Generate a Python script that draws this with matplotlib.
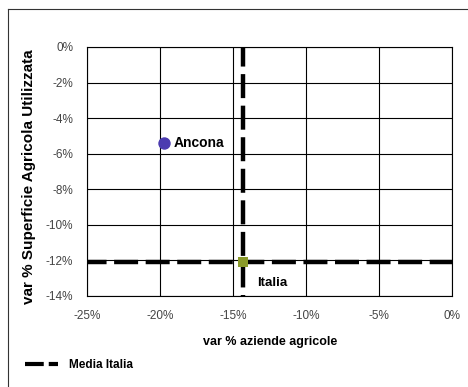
import matplotlib
matplotlib.use("Agg")
import matplotlib.pyplot as plt
from matplotlib.lines import Line2D
from matplotlib.ticker import FuncFormatter

plt.rcParams['font.family'] = ['Liberation Sans', 'DejaVu Sans']

# Data
points = ["Ancona", "Italia"]
x_vals = [-19.7, -14.3]   # var % aziende agricole
y_vals = [-5.4, -12.1]    # var % Superficie Agricola Utilizzata
point_colors = ["#4b3bb0", "#8a9a2a"]
media_x = -14.3
media_y = -12.1
x_ticks = [-25, -20, -15, -10, -5, 0]
y_ticks = [0, -2, -4, -6, -8, -10, -12, -14]

W, H = 468, 387
fig = plt.figure(figsize=(W/100, H/100), dpi=100)
ax = fig.add_axes([87/W, 1-296/H, (452-87)/W, (296-47)/H])

ax.set_xlim(-25, 0)
ax.set_ylim(-14, 0)
ax.set_xticks(x_ticks)
ax.set_yticks(y_ticks)
ax.xaxis.set_major_formatter(FuncFormatter(lambda v, p: f"{int(round(v))}%"))
ax.yaxis.set_major_formatter(FuncFormatter(lambda v, p: f"{int(round(v))}%"))
ax.grid(True, color="black", linewidth=0.8)
ax.set_axisbelow(True)
ax.tick_params(length=0, labelsize=8.5, colors="#444444")
ax.tick_params(axis="y", pad=10)
ax.tick_params(axis="x", pad=10)
for s in ax.spines.values():
    s.set_color("black")
    s.set_linewidth(0.8)

dash = (1, (5.4, 1.7))
ax.plot([media_x, media_x], [0, -14], color="black", linewidth=3.2,
        linestyle=dash, zorder=3, dash_capstyle="butt")
ax.plot([-25, 0], [media_y, media_y], color="black", linewidth=3.2,
        linestyle=dash, zorder=3, dash_capstyle="butt")

ax.scatter([x_vals[0]], [y_vals[0]], s=63, color=point_colors[0], marker="o", zorder=5)
ax.scatter([x_vals[1]], [y_vals[1]], s=50, color=point_colors[1], marker="s", zorder=4,
           linewidths=0)
ax.annotate(points[0], (x_vals[0], y_vals[0]), xytext=(7, 0), textcoords="offset points",
            fontsize=10, fontweight="bold", va="center", ha="left")
ax.annotate(points[1], (x_vals[1], y_vals[1]), xytext=(10, -15), textcoords="offset points",
            fontsize=9.5, fontweight="bold", va="center", ha="left")

fig.text(270/W, 1-342/H, "var % aziende agricole", fontsize=9, fontweight="bold",
         ha="center", va="center")
fig.text(29/W, 1-177/H, "var % Superficie Agricola Utilizzata", fontsize=11,
         fontweight="bold", ha="center", va="center", rotation=90)

# legend
fig.legend(handles=[Line2D([0], [0], color="black", linewidth=3, linestyle=(0, (4.5, 1.2)))],
           labels=["Media Italia"], loc="center left", bbox_to_anchor=(14/W, 1-365/H),
           frameon=False, handlelength=2.8, handletextpad=1.0,
           prop={"weight": "bold", "size": 8.5})

# outer frame
fig.add_artist(Line2D([8/W, 1], [1-9/H, 1-9/H], color="#333333", linewidth=0.8, transform=fig.transFigure))
fig.add_artist(Line2D([8/W, 8/W], [0, 1-9/H], color="#333333", linewidth=0.8, transform=fig.transFigure))

fig.savefig("out.png", dpi=100)
